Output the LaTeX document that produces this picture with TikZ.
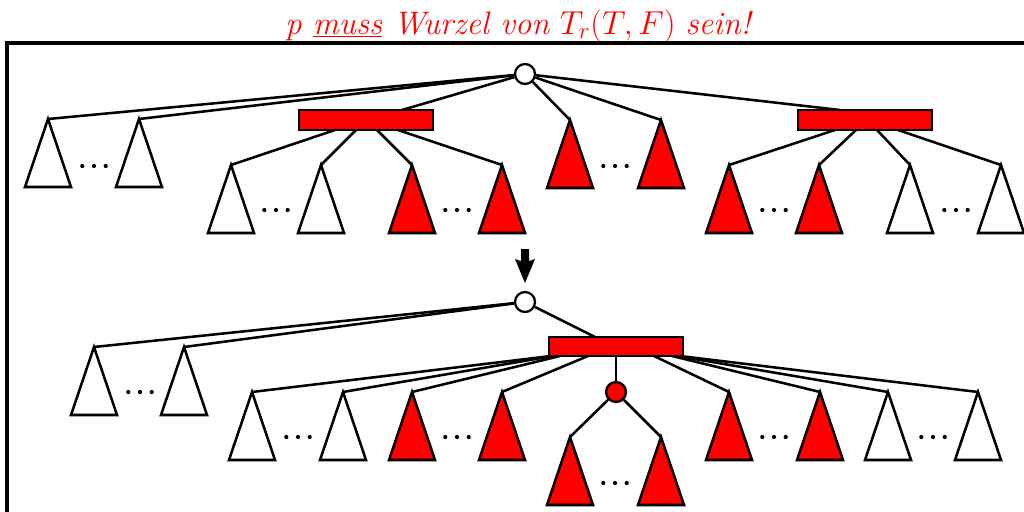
\documentclass[tikz,border=0pt]{standalone}
\usetikzlibrary{calc}
\definecolor{tred}{RGB}{255,0,0}
\pgfdeclarelayer{bg}
\pgfsetlayers{bg,main}
\begin{document}
\begin{tikzpicture}[x=0.75pt,y=-0.75pt,
  tl/.style={line width=1.9pt, line join=miter},
  rootc/.style={circle, draw, line width=1.7pt, fill=white, minimum size=15pt, inner sep=0pt},
  redc/.style={circle, draw, line width=1.7pt, fill=tred, minimum size=15pt, inner sep=0pt},
  redrect/.style={rectangle, draw, line width=1.5pt, fill=tred, minimum width=100pt, minimum height=14.5pt, inner sep=0pt},
  pics/tri/.style={code={\draw[tl, fill=#1] (0,0) -- (-23,68) -- (23,68) -- cycle;}},
  pics/dts/.style={code={\foreach \dx in {-11.7,0,11.7} \fill (\dx,0) circle[radius=2.1];}}]
\useasboundingbox (0,0) rectangle (1024,511);

% title
\node[anchor=base, text=tred, font=\fontsize{24.4}{29}\selectfont, inner sep=0pt] (title) at (519,34)
  {\textit{p \underline{muss} Wurzel von} $T_r(T,F)$ \textit{sein!}};

% frame
\draw[line width=2.4pt] (7,520) -- (7,43) -- (1030,43);

% ---------- top tree ----------
\node[rootc] (R1) at (525,74) {};
\node[redrect] (r1) at (366,120) {};
\node[redrect] (r2) at (865,120) {};

\coordinate (a1) at (48,119);  \coordinate (a2) at (139,119);
\coordinate (m1) at (570,120); \coordinate (m2) at (661,120);
\coordinate (r1t) at (402,110); \coordinate (r2t) at (840,110);
\coordinate (r1b1) at (335,130); \coordinate (r1b2) at (356,130);
\coordinate (r1b3) at (377,130); \coordinate (r1b4) at (398,130);
\coordinate (r2b1) at (835,130); \coordinate (r2b2) at (856,130);
\coordinate (r2b3) at (877,130); \coordinate (r2b4) at (898,130);
\coordinate (u1) at (231,165); \coordinate (u2) at (321,165);
\coordinate (u3) at (412,165); \coordinate (u4) at (502,165);
\coordinate (v1) at (729,165); \coordinate (v2) at (819,165);
\coordinate (v3) at (910,165); \coordinate (v4) at (1001,165);

\begin{pgfonlayer}{bg}
\draw[tl] (R1) -- (a1);
\draw[tl] (R1) -- (a2);
\draw[tl] (R1) -- (r1t);
\draw[tl] (R1) -- (m1);
\draw[tl] (R1) -- (m2);
\draw[tl] (R1) -- (r2t);
\draw[tl] (r1b1) -- (u1);
\draw[tl] (r1b2) -- (u2);
\draw[tl] (r1b3) -- (u3);
\draw[tl] (r1b4) -- (u4);
\draw[tl] (r2b1) -- (v1);
\draw[tl] (r2b2) -- (v2);
\draw[tl] (r2b3) -- (v3);
\draw[tl] (r2b4) -- (v4);
\end{pgfonlayer}

\pic at (a1) {tri=white}; \pic at (a2) {tri=white};
\pic at (94,166) {dts};
\pic at (m1) {tri=tred}; \pic at (m2) {tri=tred};
\pic at (615,166) {dts};
\pic at (u1) {tri=white}; \pic at (u2) {tri=white};
\pic at (u3) {tri=tred};  \pic at (u4) {tri=tred};
\pic at (276,210) {dts}; \pic at (457,210) {dts};
\pic at (v1) {tri=tred};  \pic at (v2) {tri=tred};
\pic at (v3) {tri=white}; \pic at (v4) {tri=white};
\pic at (774,210) {dts}; \pic at (956,210) {dts};

% ---------- arrow ----------
\fill (521,249) -- (529,249) -- (529,261) -- (535,259) -- (525,283) -- (515,259) -- (521,261) -- cycle;

% ---------- bottom tree ----------
\node[rootc] (R2) at (525,302) {};
\node[redrect, minimum width=100.5pt] (r3) at (615.5,346.5) {};
\node[redc] (C) at (616,392) {};

\coordinate (b1) at (94,347); \coordinate (b2) at (184,347);
\coordinate (r3t) at (595,337);
\coordinate (s1) at (551,356); \coordinate (s2) at (553,356);
\coordinate (s3) at (560,356); \coordinate (s4) at (588,356);
\coordinate (s5) at (616,356); \coordinate (s6) at (654,356);
\coordinate (s7) at (672,356); \coordinate (s8) at (677,356);
\coordinate (s9) at (680,356);
\coordinate (w1) at (252,392); \coordinate (w2) at (343,392);
\coordinate (w3) at (412,392); \coordinate (w4) at (502,392);
\coordinate (w6) at (729,392); \coordinate (w7) at (820,392);
\coordinate (w8) at (888,392); \coordinate (w9) at (978,392);
\coordinate (c1) at (570,437); \coordinate (c2) at (661,437);

\begin{pgfonlayer}{bg}
\draw[tl] (R2) -- (b1);
\draw[tl] (R2) -- (b2);
\draw[tl] (R2) -- (r3t);
\draw[tl] (s1) -- (w1);
\draw[tl] (s2) -- (w2);
\draw[tl] (s3) -- (w3);
\draw[tl] (s4) -- (w4);
\draw[tl] (s5) -- (C);
\draw[tl] (s6) -- (w6);
\draw[tl] (s7) -- (w7);
\draw[tl] (s8) -- (w8);
\draw[tl] (s9) -- (w9);
\draw[tl] (C) -- (c1);
\draw[tl] (C) -- (c2);
\end{pgfonlayer}

\pic at (b1) {tri=white}; \pic at (b2) {tri=white};
\pic at (140,392) {dts};
\pic at (w1) {tri=white}; \pic at (w2) {tri=white};
\pic at (w3) {tri=tred};  \pic at (w4) {tri=tred};
\pic at (298,437) {dts}; \pic at (457,437) {dts};
\pic at (w6) {tri=tred};  \pic at (w7) {tri=tred};
\pic at (w8) {tri=white}; \pic at (w9) {tri=white};
\pic at (774,437) {dts}; \pic at (933,437) {dts};
\pic at (c1) {tri=tred}; \pic at (c2) {tri=tred};
\pic at (615,483) {dts};
\end{tikzpicture}
\end{document}
